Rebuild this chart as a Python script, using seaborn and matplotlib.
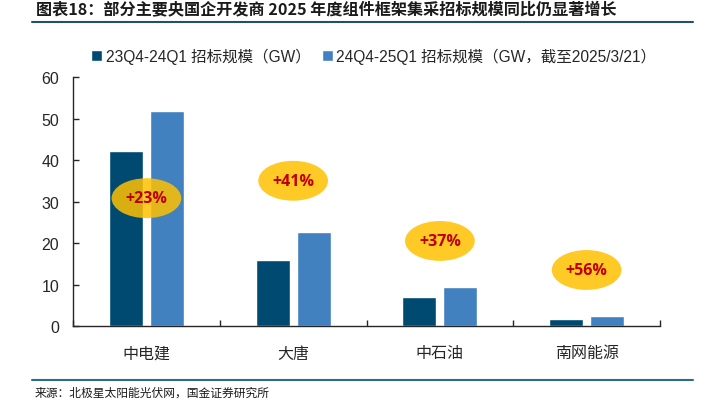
import matplotlib
matplotlib.use("Agg")
import matplotlib.pyplot as plt
from matplotlib.patches import Ellipse
from matplotlib.lines import Line2D
import seaborn as sns
import pandas as pd

companies = ["中电建", "大唐", "中石油", "南网能源"]
series_names = ["23Q4-24Q1 招标规模（GW）", "24Q4-25Q1 招标规模（GW，截至2025/3/21）"]
vol_2324 = [42.1, 16.0, 6.9, 1.6]
vol_2425 = [51.9, 22.6, 9.5, 2.5]
growth_labels = ["+23%", "+41%", "+37%", "+56%"]
bubble_y = [30.8, 35.0, 20.5, 13.5]

title = "图表18：部分主要央国企开发商 2025 年度组件框架集采招标规模同比仍显著增长"
source = "来源：北极星太阳能光伏网，国金证券研究所"

df = pd.DataFrame({
    "company": companies * 2,
    "series": [series_names[0]] * 4 + [series_names[1]] * 4,
    "value": vol_2324 + vol_2425,
})

sns.set_theme(style="white")
plt.rcParams["font.family"] = ["Liberation Sans", "Noto Sans CJK SC", "DejaVu Sans"]

fig = plt.figure(figsize=(7.07, 4.14), dpi=100)
ax = fig.add_axes([0.1033, 0.2101, 0.8302, 0.6015])

sns.barplot(
    data=df, x="company", y="value", hue="series",
    palette=["#004A72", "#4281C0"], width=0.56, gap=0.175,
    saturation=1, ax=ax, legend=True,
)

ax.set_ylim(0, 60)
ax.set_xlim(-0.5, 3.5)
ax.set_yticks(range(0, 61, 10))
ax.set_xlabel("")
ax.set_ylabel("")
ax.tick_params(axis="x", which="major", length=0, labelsize=11.5, pad=14, labelcolor="#262626")
ax.set_xticks([-0.5, 0.5, 1.5, 2.5, 3.5], minor=True)
ax.tick_params(axis="x", which="minor", direction="in", length=4, width=1, color="#262626", bottom=True)
ax.tick_params(axis="y", direction="in", length=4, width=1, color="#262626", left=True,
               labelsize=11.5, labelcolor="#262626", pad=10)
for s in ["top", "right"]:
    ax.spines[s].set_visible(False)
for s in ["left", "bottom"]:
    ax.spines[s].set_color("#262626")
    ax.spines[s].set_linewidth(1)

# growth bubbles
for i, (lab, yy) in enumerate(zip(growth_labels, bubble_y)):
    ax.add_patch(Ellipse((i, yy), 0.475, 9.6, facecolor="#FFC000", alpha=0.85,
                         edgecolor="none", zorder=5))
    ax.text(i, yy, lab, ha="center", va="center", color="#C00000", fontsize=11.5,
            fontweight="bold", family=["Open Sans", "DejaVu Sans"], zorder=6)

handles, labels = ax.get_legend_handles_labels()
ax.legend(handles, labels, ncol=2, loc="center left", frameon=False,
          bbox_to_anchor=(0.129, 0.862), bbox_transform=fig.transFigure,
          fontsize=11.2, handlelength=0.7, handleheight=0.7, handletextpad=0.25,
          columnspacing=0.7, borderpad=0, borderaxespad=0, labelcolor="#262626")

fig.text(0.051, 0.978, title, ha="left", va="center", fontsize=11.6,
         fontweight="bold", style="italic", color="#1a1a1a",
         family=["Noto Sans CJK SC", "DejaVu Sans"])
fig.add_artist(Line2D([32 / 707, 693 / 707], [1 - 22.7 / 414] * 2,
                      color="#1F4E79", linewidth=1.5, transform=fig.transFigure))
fig.add_artist(Line2D([32 / 707, 693 / 707], [1 - 380.5 / 414] * 2,
                      color="#2E6A8E", linewidth=1.5, transform=fig.transFigure))
fig.text(35 / 707, 1 - 393 / 414, source, ha="left", va="center", fontsize=8.5,
         color="#1a1a1a", family=["Noto Sans CJK SC", "DejaVu Sans"])

fig.savefig("out.png", dpi=100)
